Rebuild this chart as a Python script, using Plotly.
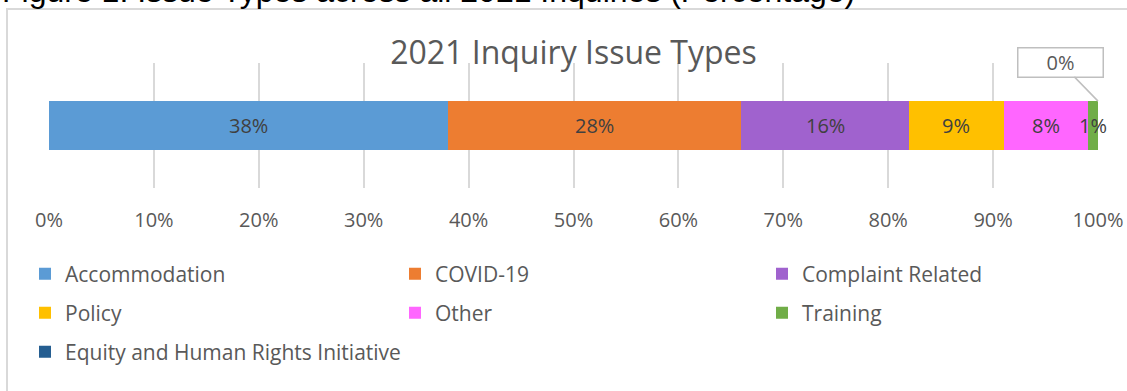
import plotly.graph_objects as go

categories = ["Accommodation", "COVID-19", "Complaint Related", "Policy", "Other", "Training",
              "Equity and Human Rights Initiative"]
values = [38, 28, 16, 9, 8, 1, 0]
colors = ["#5B9BD5", "#ED7D31", "#A062CE", "#FFC000", "#FF66FF", "#70AD47", "#255E91"]
tick_vals = [0, 10, 20, 30, 40, 50, 60, 70, 80, 90, 100]
tick_text = [f"{v}%" for v in tick_vals]
title_text = "2021 Inquiry Issue Types"
caption_text = "Figure 1: Issue Types across all 2021 Inquiries (Percentage)"

FONT = "Open Sans"
TXT = "#595959"
BAR_W = 0.39
PLOT_L, PLOT_W, PLOT_T, PLOT_H = 49, 1049, 63, 125

def px_x(p):
    return (p - PLOT_L) / PLOT_W

def px_y(p):
    return (PLOT_T + PLOT_H - p) / PLOT_H

# legend grid: 3 columns, rows of legend items
leg_cols = [25, 395, 762]
leg_rows = [274, 313, 352]

fig = go.Figure()
legends = {}
for i, (name, v, c) in enumerate(zip(categories, values, colors)):
    key = "legend" if i == 0 else f"legend{i + 1}"
    fig.add_trace(go.Bar(
        y=[0], x=[v], name=name, orientation="h", marker=dict(color=c, line=dict(width=0)),
        width=BAR_W, legend=key, textposition="none", hoverinfo="skip",
    ))
    legends[key] = dict(x=px_x(leg_cols[i % 3]), y=px_y(leg_rows[i // 3]), xanchor="left",
                        yanchor="middle", orientation="h", bgcolor="rgba(0,0,0,0)",
                        font=dict(family=FONT, size=21, color=TXT), itemclick=False,
                        traceorder="normal")

# data labels
cum = 0
for name, v in zip(categories, values):
    mid = cum + v / 2
    if v > 0:
        fig.add_annotation(x=mid, y=0, xref="x", yref="y", text=f"{v}%", showarrow=False,
                           font=dict(family=FONT, size=20, color="#404040"))
    else:
        fig.add_annotation(x=cum, y=BAR_W / 2, xref="x", yref="y", text=f"{v}%",
                           showarrow=True, arrowhead=0, arrowwidth=1.5, arrowcolor="#BFBFBF",
                           ax=-38, ay=-39, bgcolor="white", bordercolor="#BFBFBF", borderwidth=1.5,
                           width=82, height=26, borderpad=1, xshift=0,
                           font=dict(family=FONT, size=20, color=TXT))
    cum += v

# caption (cut off at the top edge)
fig.add_annotation(x=px_x(0), y=px_y(11), xref="paper", yref="paper",
                   xanchor="left", yanchor="bottom", text=caption_text, showarrow=False,
                   font=dict(family="Liberation Sans", size=32, color="#000000"))

# chart border
fig.add_shape(type="rect", xref="paper", yref="paper",
              x0=px_x(7), x1=px_x(1140), y0=px_y(9), y1=px_y(410),
              line=dict(color="#D9D9D9", width=2), fillcolor="rgba(0,0,0,0)", layer="below")

fig.update_layout(
    width=1127, height=391,
    margin=dict(l=PLOT_L, r=1127 - PLOT_L - PLOT_W, t=PLOT_T, b=391 - PLOT_T - PLOT_H,
                autoexpand=False),
    paper_bgcolor="white", plot_bgcolor="white",
    barmode="stack",
    title=dict(text=title_text, xref="paper", x=0.5, xanchor="center", y=1 - 53 / 391,
               yanchor="middle", font=dict(family=FONT, size=32, color=TXT)),
    xaxis=dict(range=[0, 100], tickvals=tick_vals, ticktext=tick_text, showgrid=True,
               gridcolor="#D9D9D9", gridwidth=2, zeroline=False, showline=False, ticks="",
               ticklabelstandoff=18, tickfont=dict(family=FONT, size=20, color=TXT), fixedrange=True),
    yaxis=dict(range=[-0.5, 0.5], visible=False, fixedrange=True),
    showlegend=True,
    **legends,
)

fig.write_html("out.html")
